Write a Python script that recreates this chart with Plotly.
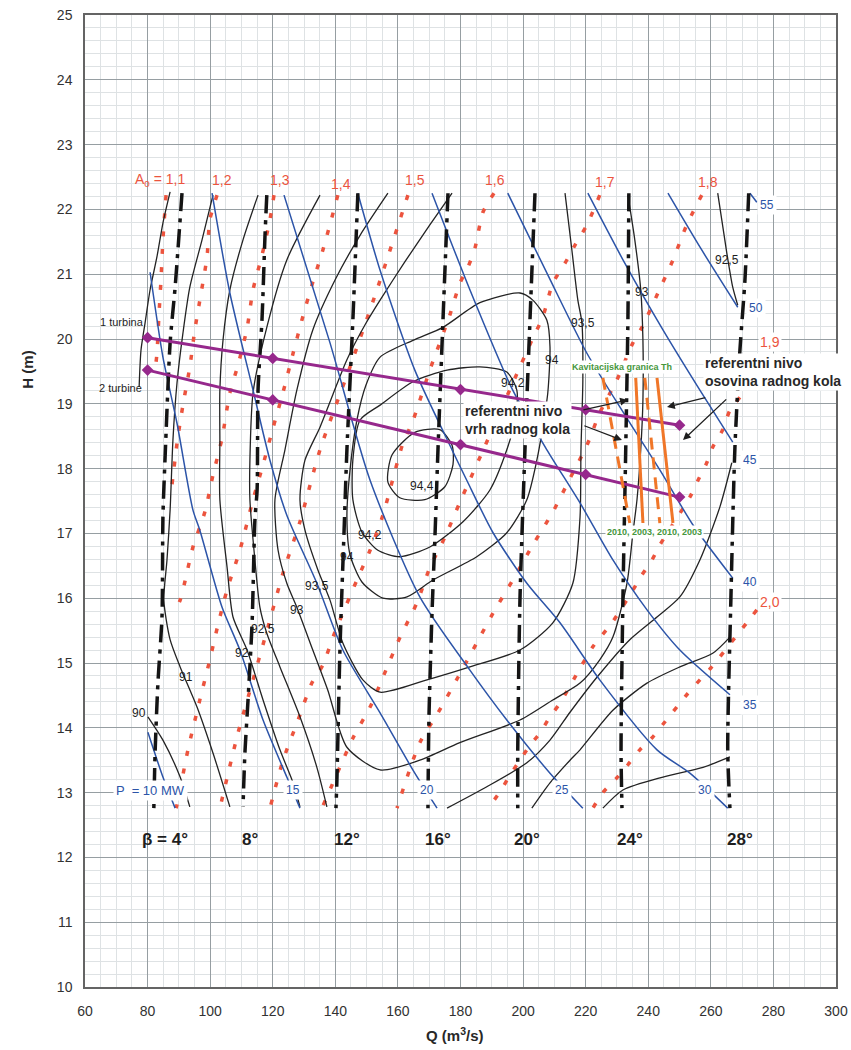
import plotly.graph_objects as go

# ---------------- data (Q in m3/s, H in m) ----------------
# runner blade angle lines (beta)
beta_names = ["β = 4°", "8°", "12°", "16°", "20°", "24°", "28°"]
beta4_Q = [91.0, 88.8, 87.2, 85.6, 84.9, 84.6, 83.3, 82.4, 82.0]
beta4_H = [22.25, 20.80, 19.94, 18.18, 17.25, 15.71, 14.69, 13.61, 12.76]
beta8_Q = [118.1, 117.5, 116.6, 115.3, 115.0, 114.3, 113.4, 112.1, 111.1, 110.5]
beta8_H = [22.22, 21.57, 20.34, 19.21, 17.67, 17.21, 15.62, 14.43, 13.61, 12.78]
beta12_Q = [147.2, 145.6, 143.7, 142.8, 141.5, 140.5, 140.2]
beta12_H = [22.25, 20.29, 18.29, 17.05, 15.25, 13.19, 12.76]
beta16_Q = [176.0, 174.4, 172.8, 171.8, 170.9, 169.9, 169.6]
beta16_H = [22.25, 20.29, 18.29, 16.90, 15.77, 14.12, 12.76]
beta20_Q = [203.8, 202.2, 200.6, 199.0, 198.3, 198.3]
beta20_H = [22.25, 20.29, 18.29, 15.97, 13.66, 12.76]
beta24_Q = [233.8, 233.5, 232.8, 231.9, 231.3, 231.6]
beta24_H = [22.25, 20.29, 18.29, 15.97, 13.66, 12.76]
beta28_Q = [272.1, 270.9, 269.3, 267.7, 266.4, 265.4, 266.1]
beta28_H = [22.25, 20.91, 19.83, 18.33, 15.97, 13.66, 12.76]
beta_label_Q = [85.6, 112.7, 143.7, 172.8, 201.2, 234.1, 269.3]
beta_label_H = 12.27

# wicket gate opening lines (A0)
a0_names = ["A<sub>0</sub> = 1,1", "1,2", "1,3", "1,4", "1,5", "1,6", "1,7", "1,8", "1,9", "2,0"]
a0_label_Q = [84.0, 103.8, 122.3, 141.8, 165.4, 191.0, 226.1, 259.0, 278.9, 278.9]
a0_label_H = [22.45, 22.45, 22.45, 22.39, 22.45, 22.45, 22.42, 22.42, 19.95, 15.94]
a11_Q = [85.9, 84.9, 84.3, 83.6, 83.0, 82.7]
a11_H = [22.22, 21.53, 20.93, 20.34, 19.78, 19.64]
a12_Q = [102.2, 99.9, 99.0, 97.1, 95.1, 93.5, 91.3, 89.4, 88.1, 87.8]
a12_H = [22.22, 21.84, 21.27, 20.71, 20.14, 19.57, 18.98, 18.39, 17.87, 17.75]
a13_Q = [120.4, 119.1, 116.6, 113.7, 111.8, 108.9, 106.3, 103.8, 100.9, 98.3, 94.5, 91.9, 90.4, 89.7]
a13_H = [22.22, 21.84, 21.30, 20.76, 20.17, 19.60, 19.17, 18.47, 17.90, 17.33, 16.79, 16.25, 15.97, 15.89]
a14_Q = [140.8, 136.0, 132.5, 129.3, 126.5, 123.3, 120.1, 116.9, 113.7, 109.5, 105.4, 102.5, 99.9, 96.7, 92.9, 89.4, 89.1]
a14_H = [22.22, 21.37, 20.83, 20.29, 19.78, 19.18, 18.63, 18.06, 17.52, 16.74, 16.13, 15.59, 15.05, 14.43, 13.66, 12.81, 12.76]
a15_Q = [163.2, 153.3, 144.7, 135.1, 128.7, 123.3, 118.5, 113.7, 108.9, 103.1]
a15_H = [22.22, 20.76, 19.57, 18.29, 17.18, 16.39, 15.56, 14.74, 13.92, 12.76]
a16_Q = [190.7, 187.2, 184.6, 182.4, 179.8, 176.6, 170.2, 164.5, 161.6, 155.2, 151.1, 146.9, 139.9, 136.0, 132.5, 128.1, 123.3, 119.1]
a16_H = [22.25, 21.96, 21.40, 21.11, 20.86, 20.37, 19.52, 18.70, 18.39, 17.28, 16.74, 16.28, 15.48, 14.97, 14.69, 14.12, 13.50, 12.76]
a17_Q = [224.5, 220.4, 216.6, 213.4, 209.5, 206.3, 202.8, 199.0, 189.4, 179.8, 175.0, 170.2, 166.1, 160.6, 155.9, 151.1, 145.6, 140.8, 135.7]
a17_H = [22.22, 21.76, 21.45, 21.17, 20.86, 20.34, 19.98, 19.57, 18.52, 17.48, 16.94, 16.47, 15.93, 15.39, 14.86, 14.32, 13.84, 13.32, 12.76]
a18_Q = [257.1, 252.3, 247.9, 243.1, 238.0, 235.1, 230.0, 224.5, 220.4, 215.0, 209.5, 203.1, 196.7, 190.4, 185.2, 179.2, 172.8, 167.0, 159.7]
a18_H = [22.22, 21.76, 21.22, 20.71, 20.18, 19.94, 19.37, 18.86, 18.36, 17.85, 17.33, 16.82, 16.28, 15.77, 15.31, 14.78, 14.23, 13.77, 12.76]
a19_Q = [269.3, 266.1, 263.8, 260.6, 258.7, 255.9, 253.3, 243.7, 241.2, 238.0, 234.8, 228.4, 222.3, 218.2, 211.8, 208.6, 205.4, 202.2, 199.0, 195.8, 192.6, 188.8]
a19_H = [19.10, 18.90, 18.60, 18.33, 18.09, 17.82, 17.56, 16.82, 16.59, 16.36, 16.10, 15.62, 15.25, 14.92, 14.38, 14.17, 13.92, 13.73, 13.50, 13.27, 13.01, 12.76]
a20_Q = [274.7, 271.5, 267.7, 260.3, 256.5, 252.3, 245.3, 241.5, 237.3, 233.5, 230.0, 225.5, 222.3]
a20_H = [15.82, 15.62, 15.39, 14.94, 14.74, 14.51, 14.09, 13.86, 13.66, 13.43, 13.23, 13.00, 12.76]

# power lines (P, MW)
p_names = ["P  = 10 MW", "15", "20", "25", "30", "35", "40", "45", "50", "55"]
p_label_Q = [80.8, 126.5, 169.3, 212.4, 258.1, 272.5, 272.5, 272.5, 274.4, 277.9]
p_label_H = [13.04, 13.04, 13.04, 13.04, 13.04, 14.35, 16.25, 18.13, 20.48, 22.07]
p10_Q = [80.1, 84.9, 88.8]
p10_H = [13.93, 13.24, 12.76]
p15_Q = [80.8, 84.9, 89.4, 94.5, 96.7, 103.8, 109.5, 116.9, 124.5, 128.7]
p15_H = [21.03, 19.72, 18.70, 17.36, 17.05, 15.86, 15.20, 14.12, 13.24, 12.76]
p20_Q = [100.6, 106.3, 113.7, 119.1, 124.5, 134.1, 142.4, 154.3, 165.4, 172.5]
p20_H = [22.25, 20.71, 19.21, 18.13, 17.28, 16.23, 15.20, 14.23, 13.30, 12.76]
p25_Q = [123.6, 138.3, 151.1, 167.0, 183.0, 194.8, 208.6, 219.1]
p25_H = [22.22, 19.94, 17.82, 16.02, 14.89, 14.12, 13.30, 12.76]
p30_Q = [147.2, 154.3, 165.4, 177.3, 182.0, 190.4, 201.2, 211.8, 224.5, 242.8, 253.3, 265.4]
p30_H = [22.25, 21.06, 19.52, 18.29, 17.82, 17.01, 16.23, 15.62, 14.74, 13.66, 13.30, 12.76]
p35_Q = [170.9, 183.0, 196.7, 207.6, 218.2, 228.7, 239.6, 250.1, 266.1]
p35_H = [22.25, 20.76, 19.21, 18.29, 17.47, 16.59, 15.82, 15.20, 14.51]
p40_Q = [195.1, 207.9, 220.4, 232.5, 243.7, 254.3, 267.0]
p40_H = [22.25, 20.99, 19.78, 18.83, 17.98, 17.13, 16.31]
p45_Q = [220.7, 232.5, 244.7, 256.5, 267.0]
p45_H = [22.25, 21.17, 20.14, 19.21, 18.41]
p50_Q = [246.3, 256.5, 268.6]
p50_H = [22.25, 21.42, 20.49]
p55_Q = [272.5, 274.7]
p55_H = [22.25, 22.11]

# efficiency contours (%)
c90a_Q = [87.2, 84.9, 83.0, 80.8, 79.2, 77.9, 77.3]
c90a_H = [22.27, 21.79, 21.27, 20.76, 20.25, 19.83, 19.26]
c90b_Q = [80.1, 84.9, 90.4, 93.5]
c90b_H = [14.17, 13.81, 13.24, 12.78]
c90c_Q = [225.5, 231.9, 244.7, 257.5, 266.1]
c90c_H = [12.76, 13.04, 13.24, 13.39, 13.55]
c91_Q = [100.9, 97.4, 93.5, 91.3, 89.4, 88.1, 87.2, 86.2, 85.2, 87.2, 90.4, 95.8, 100.9, 106.3]
c91_H = [22.22, 21.53, 20.80, 20.09, 19.32, 18.44, 17.36, 16.59, 15.97, 15.36, 14.94, 14.32, 13.61, 12.78]
c91b_Q = [202.8, 208.6, 215.0, 218.2, 228.7, 239.6, 250.1, 260.6, 266.1]
c91b_H = [12.76, 13.15, 13.50, 13.66, 14.27, 14.69, 14.94, 15.15, 15.40]
c92_Q = [115.3, 110.5, 106.3, 104.1, 103.1, 103.1, 103.1, 105.4, 107.3, 111.8, 116.9, 122.3, 126.5, 128.7]
c92_H = [22.22, 21.53, 20.76, 19.98, 19.21, 18.44, 17.52, 16.48, 15.71, 15.20, 14.43, 13.66, 13.15, 12.78]
c92b_Q = [175.7, 188.4, 201.2, 208.6, 215.0, 223.6, 234.1, 242.8, 250.1, 256.5, 262.9, 266.7]
c92b_H = [12.76, 13.09, 13.46, 13.81, 14.24, 14.78, 15.36, 15.71, 16.02, 16.59, 17.41, 18.09]
c925_Q = [135.1, 124.5, 118.1, 113.7, 112.7, 112.7, 114.3, 115.9, 118.1, 122.3, 128.7, 134.1, 137.3]
c925_H = [22.22, 21.22, 20.18, 19.17, 18.13, 17.52, 16.59, 15.86, 15.46, 14.94, 14.17, 13.39, 12.78]
c925b_Q = [262.2, 265.1, 267.0, 268.6]
c925b_H = [22.25, 21.33, 20.80, 20.52]
c93_Q = [156.8, 147.9, 139.9, 132.8, 127.7, 123.9, 120.7, 121.7, 124.5, 127.7, 132.8, 137.6, 143.7, 154.3,
         167.0, 179.8, 199.0, 209.5, 218.2, 224.5, 228.7, 233.2, 235.1, 236.4, 237.6, 238.3, 238.3, 237.6, 235.7, 233.5]
c93_H = [22.25, 21.60, 20.91, 20.14, 19.21, 18.29, 17.52, 16.74, 16.23, 15.86, 15.20, 14.58, 13.70, 13.35,
         13.50, 13.77, 14.12, 14.43, 14.69, 15.05, 15.40, 16.23, 17.01, 17.52, 18.29, 19.06, 19.98, 20.76, 21.53, 22.22]
c935_Q = [213.4, 215.6, 217.5, 218.8, 219.1, 218.5, 218.2, 215.9, 209.5, 199.0, 183.0, 169.3, 154.3, 148.8,
          142.4, 138.3, 134.4, 130.3, 128.7, 130.3, 135.1, 139.2, 143.7, 149.5, 154.3, 162.2, 170.2, 177.3]
c935_H = [22.25, 21.37, 20.60, 20.25, 19.37, 18.29, 17.25, 16.23, 15.62, 15.20, 14.94, 14.74, 14.55, 14.74,
          15.31, 15.97, 16.44, 17.05, 17.52, 18.13, 18.64, 19.14, 19.68, 20.22, 20.60, 21.19, 21.76, 22.25]
c94_Q = [154.3, 164.8, 174.4, 186.2, 199.0, 203.1, 207.6, 208.6, 207.9, 206.3, 204.4, 201.2, 194.8, 185.2,
         171.2, 162.9, 155.2, 148.5, 144.7, 143.7, 144.7, 146.9, 149.8, 154.3]
c94_H = [19.72, 19.98, 20.18, 20.56, 20.71, 20.60, 20.29, 19.88, 19.17, 18.64, 18.13, 17.52, 17.01, 16.64,
         16.28, 16.02, 16.00, 16.25, 16.67, 17.25, 17.98, 18.75, 19.29, 19.72]
c942_Q = [147.9, 154.3, 164.8, 175.7, 186.2, 194.8, 198.0, 197.4, 194.8, 189.4, 180.8, 170.2, 160.6, 153.6, 148.5, 145.6, 145.6, 147.9]
c942_H = [18.75, 18.98, 19.34, 19.52, 19.57, 19.49, 19.21, 18.75, 18.29, 17.67, 17.18, 16.79, 16.64, 16.74, 17.02, 17.52, 18.13, 18.75]
c944_Q = [165.4, 173.4, 177.3, 177.6, 175.0, 168.6, 160.6, 156.8, 158.1, 165.4]
c944_H = [18.56, 18.60, 18.36, 18.06, 17.72, 17.52, 17.55, 17.79, 18.21, 18.56]

eff_names = ["90", "91", "92", "92,5", "93", "93,5", "94", "94,2", "94,4", "94,2", "94", "93,5", "93", "92,5"]
eff_label_Q = [77.4, 92.3, 110.2, 116.9, 127.7, 134.1, 143.7, 151.1, 167.7, 196.7, 209.2, 219.1, 238.0, 265.1]
eff_label_H = [14.23, 14.78, 15.15, 15.52, 15.82, 16.19, 16.64, 16.98, 17.73, 19.32, 19.68, 20.25, 20.73, 21.22]

# operating (reference level) lines
ref_Q = [80, 120, 180, 220, 250]
turb1_H = [20.02, 19.70, 19.22, 18.91, 18.67]
turb2_H = [19.52, 19.06, 18.37, 17.91, 17.56]

# cavitation limits (2010 dashed, 2003 solid)
cav_names = ["2010", "2003", "2010", "2003"]
cavA_Q = [225.5, 234.1]
cavB_Q = [236.0, 238.3]
cavC_Q = [238.9, 243.7]
cavD_Q = [242.8, 247.9]
cav_H = [19.40, 17.16]

# ---------------- figure ----------------
RED = "rgb(236,84,62)"
BLUE = "rgb(44,84,168)"
BLACK = "rgb(35,35,35)"
PURPLE = "rgb(150,40,140)"
ORANGE = "rgb(240,118,40)"
GREEN = "rgb(70,150,60)"
FONT = "Liberation Sans, Arial, sans-serif"

fig = go.Figure()


def line(Q, H, color, width, dash=None, spline=True):
    fig.add_trace(go.Scatter(
        x=Q, y=H, mode="lines",
        line=dict(color=color, width=width, dash=dash,
                  shape="spline" if spline else "linear", smoothing=0.7),
        hoverinfo="skip", showlegend=False))


for q, h in [(a11_Q, a11_H), (a12_Q, a12_H), (a13_Q, a13_H), (a14_Q, a14_H), (a15_Q, a15_H),
             (a16_Q, a16_H), (a17_Q, a17_H), (a18_Q, a18_H), (a19_Q, a19_H), (a20_Q, a20_H)]:
    line(q, h, RED, 3.5, "5px,13px")

for q, h in [(c90a_Q, c90a_H), (c90b_Q, c90b_H), (c90c_Q, c90c_H), (c91_Q, c91_H), (c91b_Q, c91b_H),
             (c92_Q, c92_H), (c92b_Q, c92b_H), (c925_Q, c925_H), (c925b_Q, c925b_H), (c93_Q, c93_H),
             (c935_Q, c935_H), (c94_Q, c94_H), (c942_Q, c942_H), (c944_Q, c944_H)]:
    line(q, h, BLACK, 1.3)

for q, h in [(p10_Q, p10_H), (p15_Q, p15_H), (p20_Q, p20_H), (p25_Q, p25_H), (p30_Q, p30_H),
             (p35_Q, p35_H), (p40_Q, p40_H), (p45_Q, p45_H), (p50_Q, p50_H), (p55_Q, p55_H)]:
    line(q, h, BLUE, 1.5)

for q, h in [(beta4_Q, beta4_H), (beta8_Q, beta8_H), (beta12_Q, beta12_H), (beta16_Q, beta16_H),
             (beta20_Q, beta20_H), (beta24_Q, beta24_H), (beta28_Q, beta28_H)]:
    line(q, h, "rgb(20,20,20)", 3.5, "18px,7px,4px,7px")

for h in [turb1_H, turb2_H]:
    fig.add_trace(go.Scatter(x=ref_Q, y=h, mode="lines+markers",
                             line=dict(color=PURPLE, width=3),
                             marker=dict(symbol="diamond", size=9, color=PURPLE),
                             hoverinfo="skip", showlegend=False))

for q, d in [(cavA_Q, "12px,8px"), (cavB_Q, None), (cavC_Q, "12px,8px"), (cavD_Q, None)]:
    line(q, cav_H, ORANGE, 3, d, spline=False)

ann = []
for t, x, y in zip(a0_names, a0_label_Q, a0_label_H):
    ann.append(dict(x=x, y=y, text=t, showarrow=False, font=dict(size=14, color=RED, family=FONT),
                    bgcolor="white" if t in ("1,9", "2,0") else None))
for i, (t, x, y) in enumerate(zip(p_names, p_label_Q, p_label_H)):
    ann.append(dict(x=x, y=y, text=t, showarrow=False, font=dict(size=13 if i == 0 else 12, color=BLUE, family=FONT),
                    bgcolor="white", borderpad=2))
for t, x in zip(beta_names, beta_label_Q):
    ann.append(dict(x=x, y=beta_label_H, text="<b>" + t + "</b>", showarrow=False,
                    font=dict(size=17, color="rgb(30,30,30)", family=FONT)))
for t, x, y in zip(eff_names, eff_label_Q, eff_label_H):
    ann.append(dict(x=x, y=y, text=t, showarrow=False, font=dict(size=12, color="rgb(30,30,30)", family=FONT)))

ann += [
    dict(x=71.8, y=20.26, text="1 turbina", showarrow=False, font=dict(size=11, color="rgb(30,30,30)", family=FONT)),
    dict(x=71.2, y=19.24, text="2 turbine", showarrow=False, font=dict(size=11, color="rgb(30,30,30)", family=FONT)),
    dict(x=231.6, y=19.57, text="<b>Kavitacijska granica Th</b>", showarrow=False, bgcolor="white",
         font=dict(size=9, color=GREEN, family=FONT)),
    dict(x=242.1, y=17.02, text="<b>" + ", ".join(cav_names) + "</b>", showarrow=False, bgcolor="white",
         font=dict(size=9, color=GREEN, family=FONT)),
    dict(x=257.5, y=19.49, text="<b>referentni nivo<br>osovina radnog kola</b>", showarrow=False,
         xanchor="left", align="left", bgcolor="white",
         font=dict(size=14, color="rgb(40,40,40)", family=FONT)),
    dict(x=198.3, y=18.75, text="<b>referentni nivo<br>vrh radnog kola</b>", showarrow=False,
         align="left", bgcolor="white", font=dict(size=14, color="rgb(40,40,40)", family=FONT)),
]
# arrows
for (hx, hy, tx, ty) in [(233.5, 19.06, 218.8, 18.90), (231.6, 18.44, 219.1, 18.67),
                         (246.0, 18.95, 258.7, 19.10), (251.1, 18.44, 265.4, 19.09)]:
    ann.append(dict(x=hx, y=hy, ax=tx, ay=ty, axref="x", ayref="y", xref="x", yref="y", text="",
                    showarrow=True, arrowhead=2, arrowsize=1.2, arrowwidth=1.3, arrowcolor="rgb(30,30,30)"))

# axis titles
ann += [
    dict(xref="paper", yref="paper", x=-0.076, y=0.635, xanchor="center", yanchor="middle",
         text="<b>H (m)</b>", textangle=-90,
         showarrow=False, font=dict(size=15, color="rgb(40,40,40)", family=FONT)),
    dict(xref="paper", yref="paper", x=0.4927, y=-0.049, xanchor="center", yanchor="middle",
         text="<b>Q (m<sup>3</sup>/s)</b>",
         showarrow=False, font=dict(size=15, color="rgb(40,40,40)", family=FONT)),
]

fig.update_layout(
    width=851, height=1050,
    margin=dict(l=85, r=15, t=15, b=63),
    paper_bgcolor="white", plot_bgcolor="white",
    annotations=ann,
    xaxis=dict(range=[60, 300], tick0=60, dtick=20, showgrid=True, gridcolor="rgb(150,158,162)", gridwidth=1,
               minor=dict(tick0=60, dtick=5, showgrid=True, gridcolor="rgb(222,226,228)", gridwidth=1),
               showline=True, linecolor="rgb(100,100,100)", linewidth=1.5, mirror=True, zeroline=False,
               ticks="", ticklabelstandoff=10, automargin=False,
               tickfont=dict(size=14, color="rgb(50,50,50)", family="Liberation Sans Narrow, Liberation Sans, Arial")),
    yaxis=dict(range=[10, 25], tick0=10, dtick=1, showgrid=True, gridcolor="rgb(150,158,162)", gridwidth=1,
               minor=dict(tick0=10, dtick=0.2, showgrid=True, gridcolor="rgb(222,226,228)", gridwidth=1),
               showline=True, linecolor="rgb(100,100,100)", linewidth=1.5, mirror=True, zeroline=False,
               ticks="", ticklabelstandoff=8, automargin=False,
               tickfont=dict(size=14, color="rgb(50,50,50)", family="Liberation Sans Narrow, Liberation Sans, Arial")),
)

fig.write_html("out.html", config={"displayModeBar": False},
               post_script="document.body.style.margin='0px';document.body.style.overflow='hidden';")
